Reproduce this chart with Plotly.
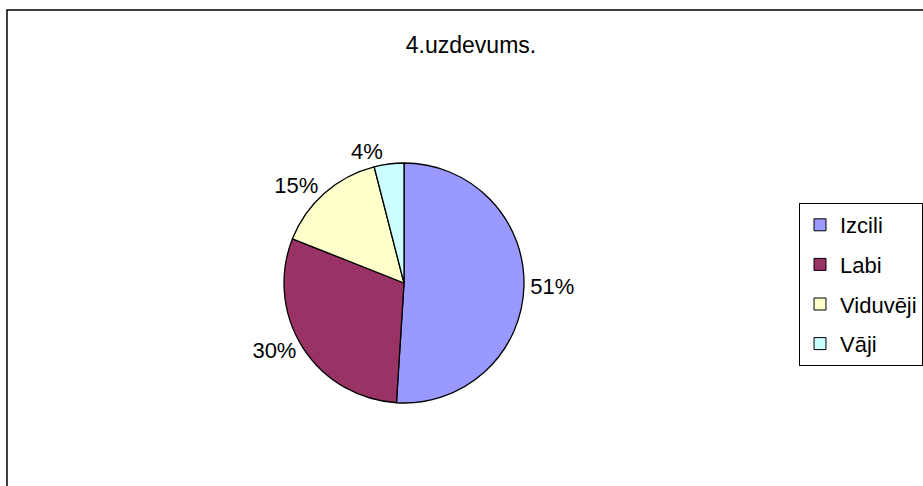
import plotly.graph_objects as go

title_text = "4.uzdevums."
categories = ["Izcili", "Labi", "Viduvēji", "Vāji"]
values = [51, 30, 15, 4]
colors = ["#9999FF", "#993366", "#FFFFCC", "#CCFFFF"]

W, H = 923, 486
FONT = "Liberation Sans, Arial, sans-serif"
FS = 22

fig = go.Figure()

# pie
cx, cy, r = 404, 283, 120
fig.add_trace(go.Pie(
    labels=categories,
    values=values,
    sort=False,
    direction="clockwise",
    rotation=0,
    marker=dict(colors=colors, line=dict(color="black", width=1.3)),
    texttemplate="%{percent:.0%}",
    textposition="outside",
    textfont=dict(family=FONT, size=FS, color="black"),
    showlegend=False,
    hoverinfo="label+percent",
    domain=dict(x=[(cx - r) / W, (cx + r) / W], y=[1 - (cy + r) / H, 1 - (cy - r) / H]),
))

# legend entries (one per category)
for i, (cat, col) in enumerate(zip(categories, colors)):
    fig.add_trace(go.Scatter(
        x=[None], y=[None], mode="markers", name=cat,
        legendgroup=f"g{i}",
        marker=dict(symbol="square", size=12, color=col, line=dict(color="black", width=1)),
        showlegend=True,
    ))

fig.update_layout(
    width=W, height=H,
    margin=dict(l=0, r=0, t=0, b=0),
    paper_bgcolor="white",
    plot_bgcolor="white",
    font=dict(family=FONT, color="black", size=FS),
    xaxis=dict(visible=False),
    yaxis=dict(visible=False),
    title=dict(text=title_text, x=471 / W, xanchor="center", y=1 - 45 / H, yanchor="middle",
               font=dict(family=FONT, size=FS + 1, color="black")),
    legend=dict(
        x=799 / W, y=1 - 203 / H, xanchor="left", yanchor="top",
        bordercolor="black", borderwidth=1, bgcolor="white",
        font=dict(family=FONT, size=FS, color="black"),
        tracegroupgap=8,
        itemclick=False, itemdoubleclick=False,
    ),
    shapes=[dict(type="rect", xref="paper", yref="paper",
                 x0=7 / W, x1=1.05, y0=-0.05, y1=1 - 10 / H,
                 line=dict(color="black", width=1.5), fillcolor="rgba(0,0,0,0)",
                 layer="below")],
)

fig.write_html("out.html", config={"displayModeBar": False},
               post_script="document.body.style.margin='0';")
